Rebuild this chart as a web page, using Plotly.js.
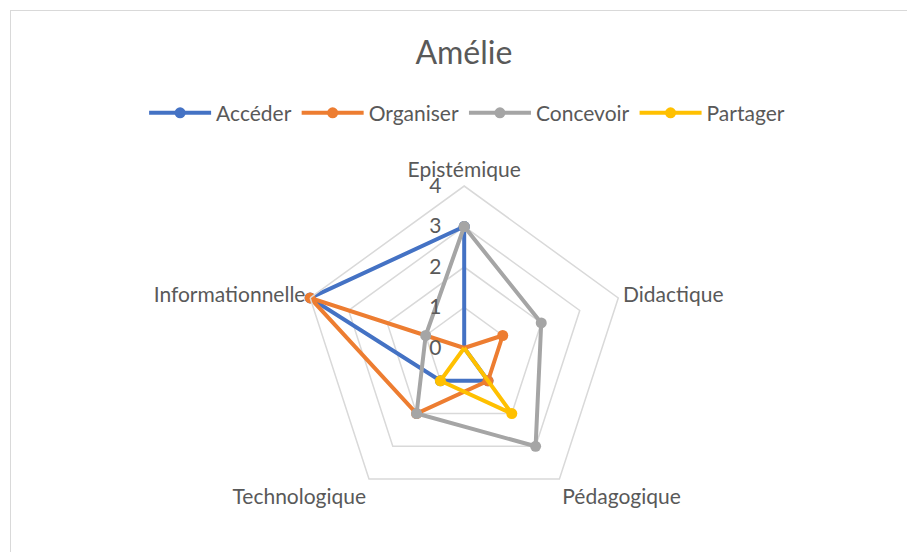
<!DOCTYPE html>
<html>
<head>
<meta charset="utf-8">
<script src="https://cdn.plot.ly/plotly-3.0.1.min.js"></script>
<style>
  html, body { margin: 0; padding: 0; background: #ffffff; overflow: hidden; }
  #frame { position: absolute; left: 10px; top: 10px; width: 1000px; height: 600px;
           border: 1px solid #d9d9d9; }
  #chart { position: absolute; left: 0; top: 0; width: 907px; height: 552px; }
</style>
</head>
<body>
<div id="frame"></div>
<div id="chart"></div>
<script>
// Radar chart "Amélie" - competences per dimension

const dimensions = ['Epistémique', 'Didactique', 'Pédagogique', 'Technologique', 'Informationnelle'];

const acceder   = [3, 0, 1, 1, 4];
const organiser = [0, 1, 1, 2, 4];
const concevoir = [3, 2, 3, 2, 1];
const partager  = [0, 0, 2, 1, 0];

const seriesNames = ['Accéder', 'Organiser', 'Concevoir', 'Partager'];
const seriesColors = ['#4472C4', '#ED7D31', '#A5A5A5', '#FFC000'];

const textColor = '#595959';
const gridColor = '#d9d9d9';
const fontFamily = 'Lato, "Open Sans", sans-serif';

// close the polygon by repeating the first point
function closeLoop(arr) {
  return arr.concat([arr[0]]);
}

const traces = [acceder, organiser, concevoir, partager].map((vals, i) => ({
  type: 'scatterpolar',
  r: closeLoop(vals),
  theta: closeLoop(dimensions),
  mode: 'lines+markers',
  name: seriesNames[i],
  line: { color: seriesColors[i], width: 4 },
  marker: { color: seriesColors[i], size: 11 },
  hoverinfo: 'skip'
}));

const layout = {
  width: 907,
  height: 552,
  paper_bgcolor: 'rgba(0,0,0,0)',
  plot_bgcolor: 'rgba(0,0,0,0)',
  margin: { l: 0, r: 0, t: 0, b: 0 },
  font: { family: fontFamily, color: textColor },
  title: {
    text: 'Amélie',
    x: 0.5115,
    xanchor: 'center',
    y: 0.904,
    yanchor: 'middle',
    font: { family: fontFamily, size: 32, color: textColor }
  },
  showlegend: true,
  legend: {
    orientation: 'h',
    x: 0.515,
    xanchor: 'center',
    y: 0.795,
    yanchor: 'middle',
    font: { family: fontFamily, size: 21, color: textColor },
    itemwidth: 62,
    tracegroupgap: 0
  },
  polar: {
    domain: { x: [0.3332, 0.6904], y: [0.0761, 0.663] },
    bgcolor: 'rgba(0,0,0,0)',
    gridshape: 'linear',
    radialaxis: {
      range: [0, 4],
      dtick: 1,
      angle: 90,
      tickangle: 90,
      side: 'counterclockwise',
      showline: false,
      ticks: 'outside',
      ticklen: 15,
      tickcolor: 'rgba(0,0,0,0)',
      gridcolor: gridColor,
      gridwidth: 1.5,
      tickfont: { family: fontFamily, size: 21, color: textColor }
    },
    angularaxis: {
      rotation: 90,
      direction: 'clockwise',
      showgrid: false,
      showline: true,
      linecolor: gridColor,
      linewidth: 1.5,
      ticks: '',
      tickfont: { family: fontFamily, size: 21, color: textColor }
    }
  }
};

Plotly.newPlot('chart', traces, layout, { displayModeBar: false, staticPlot: true });
</script>
</body>
</html>
